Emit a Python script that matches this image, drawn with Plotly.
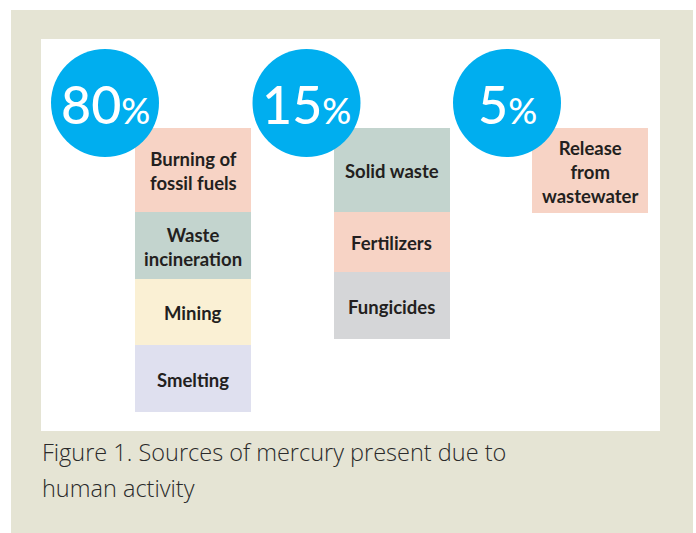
import plotly.graph_objects as go

# ---- data ----
percent_labels = ["80%", "15%", "5%"]
percent_values = [80, 15, 5]
sources_80 = ["Burning of<br>fossil fuels", "Waste<br>incineration", "Mining", "Smelting"]
sources_15 = ["Solid waste", "Fertilizers", "Fungicides"]
sources_5 = ["Release<br>from<br>wastewater"]
caption_lines = ["Figure 1. Sources of mercury present due to", "human activity"]

# ---- styles / layout constants ----
W, H = 696, 533
BLUE = "#00aeef"
BEIGE = "#e5e4d4"
TEXT = "#231f20"
col_sources = [sources_80, sources_15, sources_5]
col_colors = [
    ["#f7d3c5", "#c3d4ce", "#faf0d4", "#dfe0ef"],
    ["#c3d4ce", "#f7d3c5", "#d5d6d8"],
    ["#f7d3c5"],
]
box_heights = [[84, 67, 66, 67], [84, 60, 67], [85]]
col_left0, col_step, col_w = 135, 198.5, 116
box_top = 128
circle_cx = [105, 306.5, 507]
circle_cy = 103
circle_d = 108

fig = go.Figure()

# stacked boxes as bars
bx, by, bb, bc = [], [], [], []
annos = []
for i, (srcs, cols, hs) in enumerate(zip(col_sources, col_colors, box_heights)):
    cx = col_left0 + col_step * i + col_w / 2
    base = box_top
    for s, c, h in zip(srcs, cols, hs):
        bx.append(cx); by.append(h); bb.append(base); bc.append(c)
        annos.append(dict(x=cx, y=base + h / 2 + 1, text=s, showarrow=False,
                          xref="x", yref="y", align="center",
                          font=dict(family="Lato", size=18.5, color=TEXT, weight=700)))
        base += h

fig.add_trace(go.Bar(x=bx, y=by, base=bb, width=col_w, marker=dict(color=bc, line=dict(width=0)),
                     hoverinfo="skip", showlegend=False))

# circles
fig.add_trace(go.Scatter(x=circle_cx, y=[circle_cy] * 3, mode="markers",
                         marker=dict(size=circle_d, color=BLUE, line=dict(width=0)),
                         hoverinfo="skip", showlegend=False))

for lab, cx in zip(percent_labels, circle_cx):
    num = lab.rstrip("%")
    annos.append(dict(x=cx, y=circle_cy + 1, xref="x", yref="y", showarrow=False,
                      text=num + "<span style='font-size:36px'>%</span>",
                      font=dict(family="Lato", size=52, color="white", weight=500)))

# caption
caption_y = [452, 488]
for line, cy in zip(caption_lines, caption_y):
    annos.append(dict(x=40, y=cy, xref="x", yref="y", xanchor="left", yanchor="middle",
                      showarrow=False, text=line,
                      font=dict(family="Open Sans", size=23.5, color="#2a2a2a", weight=300)))

fig.update_layout(
    width=W, height=H, margin=dict(l=0, r=0, t=0, b=0),
    paper_bgcolor="white", plot_bgcolor="rgba(0,0,0,0)",
    barmode="overlay", bargap=0,
    xaxis=dict(range=[0, W], visible=False, fixedrange=True),
    yaxis=dict(range=[H, 0], visible=False, fixedrange=True),
    shapes=[
        dict(type="rect", xref="x", yref="y", x0=11, x1=693, y0=10, y1=H, fillcolor=BEIGE,
             line=dict(width=0), layer="below"),
        dict(type="rect", xref="x", yref="y", x0=41, x1=660, y0=39, y1=431, fillcolor="white",
             line=dict(width=0), layer="below"),
    ],
    annotations=annos,
)

fig.write_html("out.html", config={"displayModeBar": False},
               post_script="document.body.style.margin='0';document.body.style.overflow='hidden';")
